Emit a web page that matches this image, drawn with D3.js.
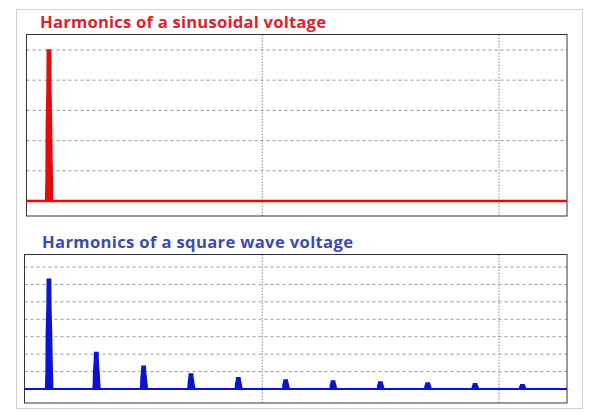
<!DOCTYPE html><html><head><meta charset="utf-8"><script src="https://cdn.jsdelivr.net/npm/d3@7"></script>
<style>body{margin:0;background:#fff}text{font-family:"Open Sans",sans-serif;font-weight:bold}</style></head><body>
<svg id="c" width="598" height="416"></svg>
<script>
const sineHarmonics=[1];
const sineValues=[100];
const squareHarmonics=[1,3,5,7,9,11,13,15,17,19,21];
const squareValues=[6.3,2.1,1.3,0.86,0.64,0.52,0.46,0.4,0.35,0.3,0.25];
const titles=["Harmonics of a sinusoidal voltage","Harmonics of a square wave voltage"];
const svg=d3.select("#c");
svg.append("rect").attr("x",16.5).attr("y",9.5).attr("width",566).attr("height",399).attr("fill","none").attr("stroke","#d0d0d0");
function panel(o){
  const x=d3.scaleLinear().domain([0,23]).range([25.5,570]);
  const y=d3.scaleLinear().domain(o.yd).range([o.base,o.topY]);
  const g=svg.append("g");
  g.append("text").attr("x",o.tx).attr("y",o.ty).attr("fill",o.col2).attr("font-size",16.6).attr("textLength",o.tl).text(o.title);
  g.append("g").selectAll("line").data(o.grid).join("line").attr("x1",o.x0).attr("x2",o.x1)
   .attr("y1",d=>y(d)).attr("y2",d=>y(d)).attr("stroke","#999").attr("stroke-dasharray","3,3");
  g.append("g").selectAll("line").data([10,20]).join("line").attr("x1",d=>x(d)).attr("x2",d=>x(d))
   .attr("y1",o.y0).attr("y2",o.y1).attr("stroke","#888").attr("stroke-dasharray","1.5,1.5");
  g.append("rect").attr("x",o.x0).attr("y",o.y0).attr("width",o.x1-o.x0).attr("height",o.y1-o.y0).attr("fill","none").attr("stroke","#333");
  g.append("line").attr("x1",o.x0).attr("x2",o.x1).attr("y1",o.base).attr("y2",o.base).attr("stroke",o.col).attr("stroke-width",o.bw);
  const shape=[[-0.15,0],[-0.13,0.15],[-0.12,0.5],[-0.09,0.75],[-0.08,1],[0.06,1],[0.07,0.75],[0.1,0.5],[0.12,0.25],[0.15,0]];
  const line=d3.line().x(d=>x(d[0])).y(d=>y(d[1]));
  g.append("g").selectAll("path").data(o.h.map((h,i)=>shape.map(s=>[h+s[0],s[1]*o.v[i]]))).join("path")
   .attr("d",line).attr("fill",o.col).attr("stroke",o.col).attr("stroke-width",1.5);
}
panel({title:titles[0],col:"#e00d0d",col2:"#d9232e",tx:40,ty:28,tl:286,x0:26.5,x1:567,y0:34.5,y1:216,base:201,topY:50,yd:[0,100],grid:[20,40,60,80,100],h:sineHarmonics,v:sineValues,bw:2.5});
panel({title:titles[1],col:"#0a14d0",col2:"#3a4bb0",tx:42,ty:248,tl:311,x0:24.5,x1:567,y0:254.5,y1:403,base:389,topY:267,yd:[0,7],grid:[1,2,3,4,5,6,7],h:squareHarmonics,v:squareValues,bw:2});
</script></body></html>
